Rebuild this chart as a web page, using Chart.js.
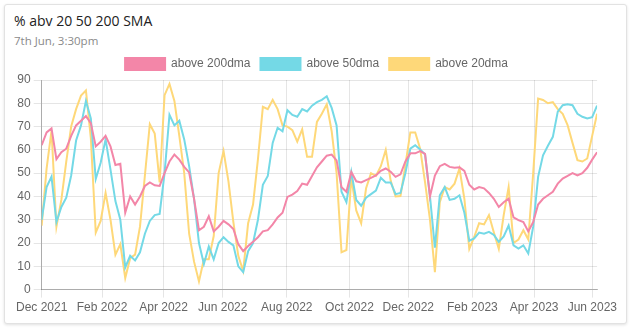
<!DOCTYPE html>
<html>
<head>
<meta charset="utf-8">
<title>% abv 20 50 200 SMA</title>
<script src="https://cdn.jsdelivr.net/npm/chart.js@4"></script>
<style>
    body { margin: 0; background: #fff; font-family: 'Open Sans', Arial, sans-serif; }
    .card {
        position: absolute; left: 4px; top: 4px; width: 621px; height: 318px;
        border: 1px solid #e2e2e2; border-radius: 3px;
        box-shadow: 0 1px 3px rgba(0, 0, 0, 0.12);
        background: #fff;
    }
    .title { position: absolute; left: 9px; top: 6px; font-size: 14px; color: #222; }
    .sub { position: absolute; left: 9px; top: 28px; font-size: 11.5px; color: #8a8a8a; }
    .wrap { position: absolute; left: 13px; top: 48px; width: 607px; height: 270px; }
</style>
</head>
<body>
<div class="card">
    <div class="title">% abv 20 50 200 SMA</div>
    <div class="sub">7th Jun, 3:30pm</div>
</div>
<div class="wrap"><canvas id="smaChart"></canvas></div>
<script>
// one value every ~3 trading sessions, Dec 2021 .. 7 Jun 2023
const above200 = [62, 67.5, 69.2, 56, 59, 60.5, 66, 70.5, 72.5, 74.5, 71.5, 61.5, 63.5, 66, 61.5, 53.5, 54, 33, 40, 36.5,
    40, 44.5, 46, 44.8, 44.5, 50, 55, 58, 55.8, 52.7, 50.3, 39, 25.5, 27, 31.5, 25, 27, 29.5, 28, 26,
    19.5, 16.5, 18.7, 20.5, 22.5, 25, 25.5, 28, 31, 33, 39.8, 40.8, 42.3, 45.5, 45, 48.8, 52.5, 55, 57.5, 58,
    55.5, 44, 42, 50.5, 46.5, 46, 47, 48, 49, 51, 52, 50.6, 48.4, 49.5, 55, 58.5, 58.5, 59.5, 58.3, 40,
    49, 53, 54, 52.7, 52.3, 52.5, 51, 45, 43, 44, 43.5, 41.5, 39, 35.5, 37.5, 39, 31, 29.8, 29, 25,
    29, 36.5, 39, 40.5, 42, 45.5, 47.7, 48.8, 50, 49, 50, 52.3, 55.8, 59];
const above50 = [30, 44, 48.5, 29, 35.5, 39.5, 49, 64, 70.5, 81, 73.5, 47.5, 54.5, 64.5, 51.5, 38, 30, 9.5, 14.5, 12.5,
    16, 24, 29.5, 32, 32.5, 50, 75, 70.5, 72.5, 64.5, 53, 39, 20, 11, 18.5, 13, 20, 22.5, 20.5, 19,
    10, 7.5, 16.5, 20, 30, 45, 48.8, 63, 69.5, 68, 77, 75, 74.2, 77.5, 76.5, 79, 80.5, 81.5, 83, 78,
    70.5, 42, 37.5, 50.5, 38.5, 36, 39.5, 41, 42.5, 48, 46, 46, 41, 41.5, 50, 60.5, 62, 60.2, 58, 40,
    18, 40.5, 44, 38.5, 39, 40.5, 33, 21, 22, 24.5, 24, 24.8, 23.5, 20.5, 22.8, 27.5, 19, 17.6, 19, 15.5,
    27, 48.4, 57.7, 61.8, 65.6, 76.4, 79.2, 79.6, 79.2, 75.5, 74.2, 73.5, 74, 79];
const above20 = [27.5, 52, 68.3, 27, 38.5, 55, 70, 77.5, 83.3, 85.5, 65, 24.5, 29.5, 41.5, 30, 15, 19.5, 5, 13.5, 15,
    27, 49, 71, 67, 46, 83.5, 88.3, 81, 66, 50, 24, 12, 3.5, 13, 13, 23, 50, 59.5, 46.5, 29,
    14.5, 8, 28.5, 36.5, 56, 78.5, 77.5, 81.5, 77.5, 70.5, 70, 68.5, 63.5, 68.8, 57, 57, 72, 75.5, 79.6, 68,
    50, 16, 17, 48, 34, 28.5, 43.5, 50, 48.8, 53, 60, 46.8, 40, 40.2, 53.5, 67.5, 67.5, 60.5, 46, 30,
    7.5, 37.5, 44, 43, 45.5, 52, 39, 17.5, 22.6, 28.5, 28, 32, 24.5, 17.5, 32, 44, 20, 21.5, 25.5, 21.5,
    50, 82, 81.4, 80, 80.5, 77.5, 75.5, 70.6, 63, 55.6, 55, 56.3, 66, 75.5];

// x axis labels and the sample index where each month starts
const monthLabels = ['Dec 2021', 'Feb 2022', 'Apr 2022', 'Jun 2022', 'Aug 2022', 'Oct 2022',
    'Dec 2022', 'Feb 2023', 'Apr 2023', 'Jun 2023'];
const monthStart = [0, 12.29, 24.8, 36.84, 49.87, 62.62, 74.59, 87.63, 100.2, 112.03];
const seriesNames = ['above 200dma', 'above 50dma', 'above 20dma'];

const toPoints = (arr) => arr.map((v, i) => ({ x: i, y: v }));

Chart.defaults.font.family = "'Helvetica Neue', Helvetica, Arial, sans-serif";
Chart.defaults.font.size = 12;
Chart.defaults.color = '#666';

const colors = ['#f386a8', '#74d9e6', '#fed879'];
const grid = 'rgba(0, 0, 0, 0.1)';

new Chart(document.getElementById('smaChart'), {
    type: 'line',
    data: {
        datasets: [above200, above50, above20].map((arr, k) => ({
            label: seriesNames[k],
            data: toPoints(arr),
            borderColor: colors[k],
            backgroundColor: colors[k],
            borderWidth: 2,
            pointRadius: 0,
            tension: 0,
            fill: false
        }))
    },
    options: {
        responsive: true,
        maintainAspectRatio: false,
        animation: false,
        layout: { padding: 0 },
        plugins: {
            legend: {
                display: true,
                position: 'top',
                labels: { boxWidth: 40, boxHeight: 12, padding: 10 }
            },
            tooltip: { enabled: false }
        },
        scales: {
            x: {
                type: 'linear',
                min: 0,
                max: above200.length - 1,
                afterBuildTicks: (scale) => {
                    scale.ticks = monthStart.map(v => ({ value: v }));
                },
                ticks: {
                    autoSkip: false,
                    maxRotation: 0,
                    padding: 3,
                    callback: (v, i) => monthLabels[i]
                },
                grid: { color: grid, tickLength: 8 },
                border: { color: 'rgba(0, 0, 0, 0.25)' }
            },
            y: {
                min: 0,
                max: 90,
                ticks: { stepSize: 10, padding: 3 },
                grid: { color: grid, tickLength: 8 },
                border: { color: 'rgba(0, 0, 0, 0.25)' }
            }
        }
    }
});
</script>
</body>
</html>
